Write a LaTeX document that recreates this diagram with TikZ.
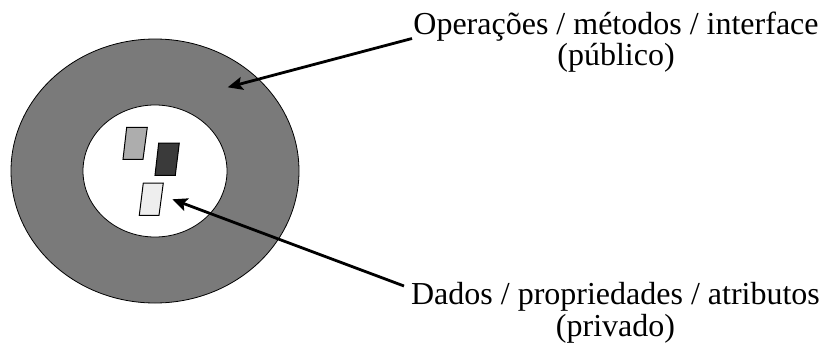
\documentclass[tikz,border=0pt]{standalone}
\usepackage{fontspec}
\setmainfont{Liberation Serif}
\usetikzlibrary{arrows.meta}
\definecolor{ringgray}{HTML}{7A7A7A}
\definecolor{midgray}{HTML}{ADADAD}
\definecolor{darkgray}{HTML}{3A3A3A}
\definecolor{lightgray}{HTML}{EEEEEE}
\begin{document}
\begin{tikzpicture}[x=1pt,y=-1pt,
  outline/.style={draw=black,line width=0.8pt},
  datum/.style={outline,line width=1pt},
  label/.style={font=\fontsize{32}{31.5}\selectfont,align=center,inner sep=0pt},
  pointer/.style={line width=2.8pt,-{Stealth[length=15pt,width=13pt,inset=3pt]}}]
\useasboundingbox (0,0) rectangle (827,351);
% outer ring (public part) and inner core (private part)
\filldraw[outline,fill=ringgray] (155,171) ellipse [x radius=144,y radius=132];
\filldraw[outline,fill=white] (155,171) ellipse [x radius=72,y radius=66];
% data items inside the core
\filldraw[datum,fill=midgray] (126.7,127.3) -- (147.3,127.3) -- (143,159.3) -- (123,159.3) -- cycle;
\filldraw[datum,fill=darkgray] (158.7,143) -- (179.3,143) -- (175.3,175.3) -- (155,175.3) -- cycle;
\filldraw[datum,fill=lightgray] (143.3,183) -- (163.3,183) -- (159,215.3) -- (139.3,215.3) -- cycle;
% labels (anchored on the baseline of their last line)
\node[label,anchor=base] (pub) at (616,65.5) {Operações / métodos / interface\\(público)};
\node[label,anchor=base] (priv) at (615.5,336) {Dados / propriedades / atributos\\(privado)};
% arrow ends
\coordinate (pubtip) at (227.7,87.3);
\coordinate (privtip) at (172.3,199.3);
\coordinate (pubstart) at (412,38.5);
\coordinate (privstart) at (404,286);
\draw[pointer] (pubstart) -- (pubtip);
\draw[pointer] (privstart) -- (privtip);
\end{tikzpicture}
\end{document}
